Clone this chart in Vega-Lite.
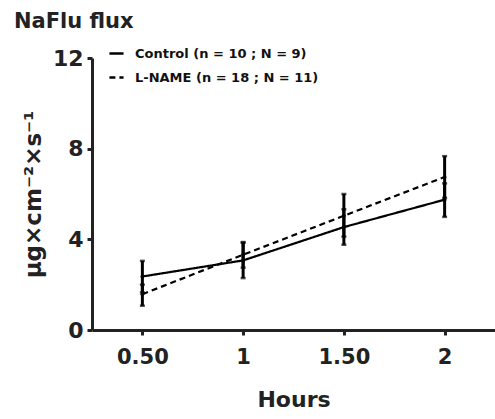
{
  "$schema": "https://vega.github.io/schema/vega-lite/v6.json",
  "autosize": {"type": "none"},
  "padding": {"left": 92, "top": 58, "right": 0, "bottom": 89},
  "width": 403,
  "height": 272,
  "title": {"text": "NaFlu flux", "anchor": "start", "frame": "group", "dx": -78, "offset": 13, "font": "DejaVu Sans", "fontSize": 21, "fontWeight": "bold", "color": "#222"},
  "config": {
    "view": {"stroke": null},
    "font": "DejaVu Sans",
    "axis": {"grid": false, "domainColor": "#222", "domainWidth": 3, "tickColor": "#222", "tickWidth": 3, "labelFont": "DejaVu Sans", "labelFontWeight": "bold", "labelColor": "#222", "titleFont": "DejaVu Sans", "titleFontWeight": "bold", "titleColor": "#222"},
    "legend": {"orient": "none", "legendX": 16, "legendY": -13, "symbolType": "stroke", "symbolStrokeWidth": 2.5, "symbolSize": 200, "symbolStrokeColor": "black", "labelFont": "DejaVu Sans", "labelFontWeight": "bold", "labelFontSize": 13, "labelColor": "#111", "labelLimit": 400, "rowPadding": 8, "title": null, "labelOffset": 10}
  },
  "data": {"values": [
    {"hour": 0.5, "group": "Control (n = 10 ; N = 9)", "mean": 2.36, "lo": 1.66, "hi": 3.05},
    {"hour": 1, "group": "Control (n = 10 ; N = 9)", "mean": 3.07, "lo": 2.29, "hi": 3.85},
    {"hour": 1.5, "group": "Control (n = 10 ; N = 9)", "mean": 4.54, "lo": 3.76, "hi": 5.33},
    {"hour": 2, "group": "Control (n = 10 ; N = 9)", "mean": 5.75, "lo": 4.99, "hi": 6.47},
    {"hour": 0.5, "group": "L-NAME (n = 18 ; N = 11)", "mean": 1.58, "lo": 1.07, "hi": 2.0},
    {"hour": 1, "group": "L-NAME (n = 18 ; N = 11)", "mean": 3.32, "lo": 2.75, "hi": 3.88},
    {"hour": 1.5, "group": "L-NAME (n = 18 ; N = 11)", "mean": 5.04, "lo": 4.12, "hi": 6.0},
    {"hour": 2, "group": "L-NAME (n = 18 ; N = 11)", "mean": 6.75, "lo": 5.83, "hi": 7.67}
  ]},
  "encoding": {
    "x": {"field": "hour", "type": "quantitative", "scale": {"domain": [0.25, 2.25], "nice": false, "zero": false},
      "axis": {"values": [0.5, 1, 1.5, 2], "labelExpr": "datum.value == 0.5 ? '0.50' : datum.value == 1.5 ? '1.50' : datum.value == 1 ? '1' : '2'", "labelFontSize": 21, "tickSize": 5, "labelPadding": 11, "title": "Hours", "titleFontSize": 22, "titlePadding": 22}}
  },
  "layer": [
    {"mark": {"type": "rule", "strokeWidth": 3, "color": "black"},
     "encoding": {"y": {"field": "lo", "type": "quantitative", "scale": {"domain": [0, 12], "nice": false},
        "axis": {"values": [0, 4, 8, 12], "labelFontSize": 22, "tickSize": 5, "labelPadding": 4, "title": "µg×cm⁻²×s⁻¹", "titleFontSize": 23, "titlePadding": 7}},
      "y2": {"field": "hi"}}},
    {"mark": {"type": "tick", "orient": "horizontal", "size": 5, "thickness": 2.5, "color": "black"},
     "encoding": {"y": {"field": "lo", "type": "quantitative"}}},
    {"mark": {"type": "tick", "orient": "horizontal", "size": 5, "thickness": 2.5, "color": "black"},
     "encoding": {"y": {"field": "hi", "type": "quantitative"}}},
    {"mark": {"type": "line", "strokeWidth": 2.2, "color": "black"},
     "encoding": {"y": {"field": "mean", "type": "quantitative"},
       "strokeDash": {"field": "group", "type": "nominal", "scale": {"domain": ["Control (n = 10 ; N = 9)", "L-NAME (n = 18 ; N = 11)"], "range": [[1, 0], [6, 4]]}, "legend": {"title": null}}}},
    {"mark": {"type": "point", "filled": true, "size": 14, "color": "black", "opacity": 1},
     "encoding": {"y": {"field": "mean", "type": "quantitative"}}}
  ]
}
